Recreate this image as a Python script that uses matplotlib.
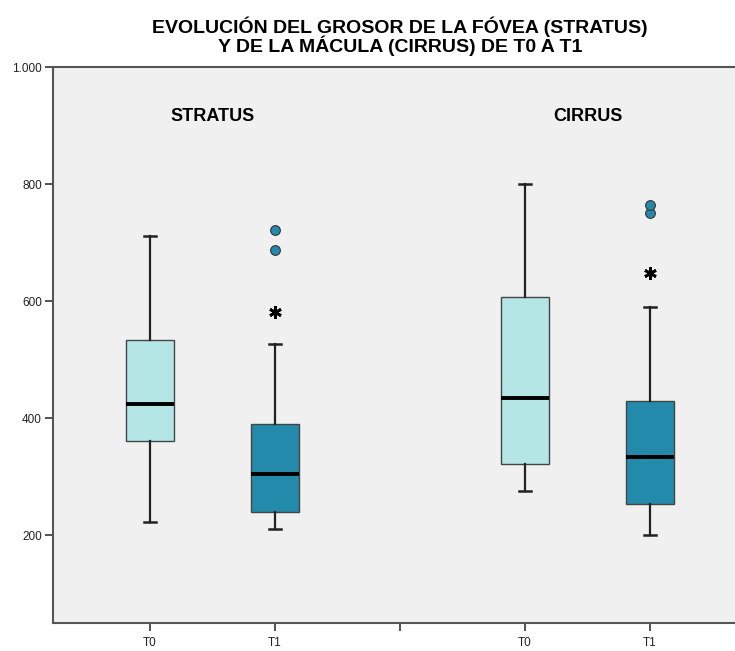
#!/usr/bin/env python3
"""SPSS-style boxplot: foveal / macular thickness, T0 vs T1."""

import matplotlib

matplotlib.use("Agg")
import matplotlib.pyplot as plt

plt.rcParams["font.family"] = ["Liberation Sans", "DejaVu Sans"]

# data, order: STRATUS T0, STRATUS T1, CIRRUS T0, CIRRUS T1
POSITIONS = [0, 1, 3, 4]
TICK_POS = [0, 1, 2, 3, 4]
TICK_LABELS = ["T0", "T1", "", "T0", "T1"]
WHISLO = [222, 210, 275, 200]
Q1 = [361, 239, 321, 253]
MED = [424, 304, 434, 333]
Q3 = [533, 390, 607, 429]
WHISHI = [711, 526, 800, 590]
OUTLIERS = [[], [687, 721], [], [750, 764]]
EXTREMES = [[], [581], [], [648]]
GROUP_NAMES = ["STRATUS", "CIRRUS"]
GROUP_CENTERS = [0.5, 3.5]

LIGHT = "#b5e6e6"
DARK = "#238aab"
FILLS = [LIGHT, DARK, LIGHT, DARK]


def main() -> None:
    fig = plt.figure(figsize=(7.35, 6.51), dpi=100)
    ax = fig.add_axes([53 / 735, 28 / 651, 1 - 53 / 735, (623 - 67) / 651])
    ax.set_facecolor("#f0f0f0")

    stats = []
    for i in range(len(POSITIONS)):
        stats.append(
            {
                "whislo": WHISLO[i],
                "q1": Q1[i],
                "med": MED[i],
                "q3": Q3[i],
                "whishi": WHISHI[i],
                "fliers": OUTLIERS[i],
            }
        )

    bp = ax.bxp(
        stats,
        positions=POSITIONS,
        widths=0.39,
        capwidths=0.1,
        patch_artist=True,
        showfliers=True,
        boxprops={"edgecolor": "#444444", "linewidth": 1.0},
        whiskerprops={"color": "#222222", "linewidth": 1.6},
        capprops={"color": "#222222", "linewidth": 1.8},
        medianprops={"color": "black", "linewidth": 2.8},
        flierprops={
            "marker": "o",
            "markerfacecolor": DARK,
            "markeredgecolor": "#333333",
            "markersize": 7,
            "markeredgewidth": 0.8,
        },
    )
    for patch, color in zip(bp["boxes"], FILLS):
        patch.set_facecolor(color)

    for pos, vals in zip(POSITIONS, EXTREMES):
        if vals:
            ax.plot(
                [pos] * len(vals),
                vals,
                linestyle="none",
                marker=(6, 2, 0),
                markersize=9,
                markeredgewidth=2.0,
                color="black",
            )

    for name, cx in zip(GROUP_NAMES, GROUP_CENTERS):
        ax.text(cx, 915, name, ha="center", va="center", fontsize=13, fontweight="bold")

    ax.set_xlim(-0.776, 4.68)
    ax.set_ylim(50, 1000)
    ax.set_yticks([200, 400, 600, 800, 1000])
    ax.set_yticklabels(["200", "400", "600", "800", "1.000"])
    ax.set_xticks(TICK_POS)
    ax.set_xticklabels(TICK_LABELS)
    ax.tick_params(axis="both", labelsize=8.5, labelcolor="#222222", color="#333333", length=6, width=1.2, pad=2)
    ax.tick_params(axis="x", pad=4)

    for side in ("top", "left", "bottom"):
        ax.spines[side].set_color("#555555")
        ax.spines[side].set_linewidth(1.5)
    ax.spines["right"].set_visible(False)

    fig.text(
        400 / 735,
        1 - 36 / 651,
        "EVOLUCIÓN DEL GROSOR DE LA FÓVEA (STRATUS)\nY DE LA MÁCULA (CIRRUS) DE T0 A T1",
        ha="center",
        va="center",
        fontsize=14,
        fontweight="bold",
        linespacing=0.92,
    )

    fig.savefig("out.png", dpi=100)
    plt.close(fig)


if __name__ == "__main__":
    main()
